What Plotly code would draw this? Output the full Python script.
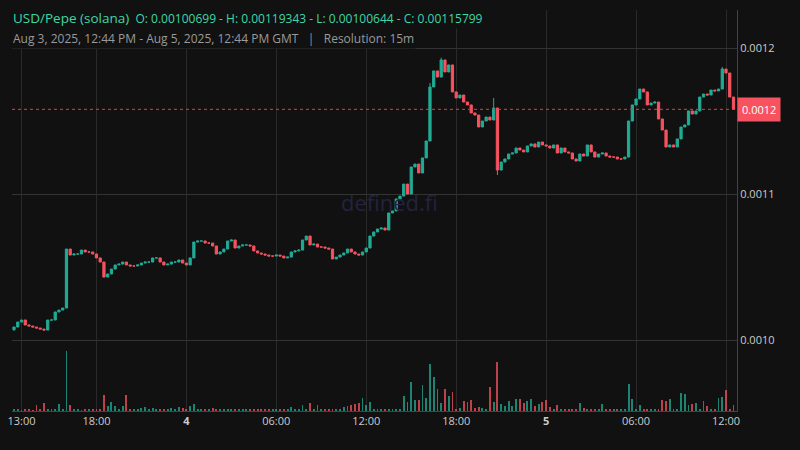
import pandas as pd
import plotly.graph_objects as go

# closes in units of 1e-7
closes = [
 10089,10123,10137,10103,10096,10089,10082,10075,10068,10137,
 10137,10192,10205,10219,10623,10582,10589,10589,10616,10603,
 10603,10589,10562,10534,10431,10452,10486,10514,10520,10534,
 10514,10507,10507,10514,10527,10534,10534,10562,10562,10534,
 10514,10520,10534,10534,10548,10527,10514,10562,10671,10678,
 10678,10664,10664,10644,10589,10603,10623,10678,10685,10630,
 10644,10651,10651,10644,10610,10596,10589,10582,10575,10575,
 10582,10575,10562,10568,10603,10610,10616,10685,10712,10651,
 10657,10637,10637,10630,10623,10555,10568,10582,10596,10623,
 10603,10589,10582,10603,10630,10712,10740,10760,10767,10753,
 10870,10884,10966,10986,11068,11000,11185,11205,11144,11247,
 11363,11733,11843,11801,11918,11836,11884,11699,11658,11678,
 11630,11610,11555,11541,11459,11500,11527,11507,11589,11164,
 11219,11240,11274,11281,11315,11301,11288,11329,11343,11322,
 11356,11336,11329,11315,11336,11281,11315,11288,11281,11240,
 11226,11274,11260,11336,11288,11253,11274,11281,11260,11253,
 11253,11240,11240,11253,11500,11610,11651,11719,11699,11610,
 11623,11630,11514,11438,11322,11336,11322,11377,11459,11473,
 11569,11548,11569,11664,11685,11678,11712,11706,11719,11856,
 11829,11664,11580]
first_open = 10070
high_over = {114: 11934, 128: 11658, 111: 11760, 189: 11870}
low_over = {0: 10064, 129: 11130}
volumes = [
 2,2,1,2,2,1,6,2,8,2, 2,2,7,2,60,6,2,2,1,2, 2,2,2,2,16,5,9,5,2,5,
 16,2,2,2,3,4,2,3,2,2, 2,2,3,2,4,3,2,5,7,2, 2,2,2,3,2,2,2,2,2,2,
 2,2,2,2,2,2,2,2,2,2, 2,2,2,2,4,2,2,6,2,8, 2,6,2,2,2,2,2,2,4,5,
 6,7,8,13,6,9,2,2,2,2, 2,2,2,2,15,9,29,11,11,26, 13,47,34,22,8,22,15,19,2,3,
 10,9,11,3,4,3,2,24,9,49, 7,5,10,5,12,12,8,10,12,5, 7,9,11,4,2,6,2,2,2,2,
 2,8,3,2,2,2,2,7,2,2, 2,2,2,2,27,12,2,6,2,2, 2,2,2,11,10,12,2,2,18,17,
 6,7,8,2,10,5,2,2,13,14, 21,2,6,2]
volumes = volumes[:len(closes)]
end_time = "2025-08-05 12:30"
xtick_vals = ["2025-08-03 13:00","2025-08-03 18:00","2025-08-04 00:00","2025-08-04 06:00",
              "2025-08-04 12:00","2025-08-04 18:00","2025-08-05 00:00","2025-08-05 06:00","2025-08-05 12:00"]
xtick_text = ["13:00","18:00","<b>4</b>","06:00","12:00","18:00","<b>5</b>","06:00","12:00"]
ytick_vals = [0.0010, 0.0011, 0.0012]
ytick_text = ["0.0010", "0.0011", "0.0012"]

S = 1e-7
n = len(closes)
times = pd.date_range(end=end_time, periods=n, freq="15min")
c = [v*S for v in closes]
o = [first_open*S] + c[:-1]
h = [max(a, b) for a, b in zip(o, c)]
l = [min(a, b) for a, b in zip(o, c)]
for k, v in high_over.items():
    h[k] = v*S
for k, v in low_over.items():
    l[k] = v*S

GREEN = "#22ab94"
RED = "#f7525f"
vcol = ["rgba(34,171,148,0.75)" if cc >= oo else "rgba(247,82,95,0.75)" for oo, cc in zip(o, c)]

fig = go.Figure()
fig.add_trace(go.Bar(x=times, y=volumes, marker_color=vcol, marker_line_width=0,
                     yaxis="y2", width=15*60*1000*0.5, hoverinfo="skip"))
fig.add_trace(go.Candlestick(x=times, open=o, high=h, low=l, close=c,
    increasing=dict(line=dict(color=GREEN, width=1), fillcolor=GREEN),
    decreasing=dict(line=dict(color=RED, width=1), fillcolor=RED),
    whiskerwidth=0))

last = c[-1]
fig.add_hline(y=last, line=dict(color="#f23645", width=1, dash="dot"))

fig.update_layout(
    width=800, height=450, margin=dict(l=8, r=63, t=10, b=39),
    paper_bgcolor="#111111", plot_bgcolor="#111111", showlegend=False,
    font=dict(family="Open Sans, Noto Sans", color="#bbbbbb", size=11),
    bargap=0, boxgap=0.15,
    xaxis=dict(range=["2025-08-03 12:22", "2025-08-05 12:44"], rangeslider=dict(visible=False),
               tickvals=xtick_vals, ticktext=xtick_text, showgrid=True, gridcolor="#2a2a2a",
               showline=True, linecolor="#444", mirror=False, ticks="", zeroline=False,
               tickfont=dict(color="#cccccc", size=11)),
    yaxis=dict(range=[0.00095137, 0.00122603], side="right", tickvals=ytick_vals, ticktext=ytick_text,
               showgrid=True, gridcolor="#333333", showline=True, linecolor="#444", ticks="",
               tickfont=dict(color="#cccccc", size=11), zeroline=False),
    yaxis2=dict(range=[0, 401], overlaying="y", visible=False, fixedrange=True),
)
fig.add_annotation(xref="paper", yref="y", x=1.0, y=last, text="0.0012", showarrow=False,
                   xanchor="left", bgcolor=RED, font=dict(color="#ffffff", size=11), borderpad=4)
fig.add_annotation(xref="paper", yref="paper", x=0.52, y=0.52, text="defined.fi", showarrow=False,
                   font=dict(size=22, color="#23233f"))
fig.add_annotation(xref="paper", yref="paper", x=0.0, y=1.0, xanchor="left", yanchor="top",
                   text="<span style='font-size:13.5px'>USD/Pepe (solana)</span>  O: 0.00100699 - H: 0.00119343 - L: 0.00100644 - C: 0.00115799",
                   showarrow=False, bgcolor="#111111", font=dict(color="#3fd6a8", size=12), xshift=-1, yshift=3)
fig.add_annotation(xref="paper", yref="paper", x=0.0, y=1.0, xanchor="left", yanchor="top",
                   text="Aug 3, 2025, 12:44 PM - Aug 5, 2025, 12:44 PM GMT   |   Resolution: 15m",
                   showarrow=False, bgcolor="#111111", font=dict(color="#9a9a9a", size=12), xshift=-1, yshift=-18)
fig.write_html("out.html", config={"displayModeBar": False},
               post_script="document.body.style.margin='0';document.body.style.background='#111111';")
